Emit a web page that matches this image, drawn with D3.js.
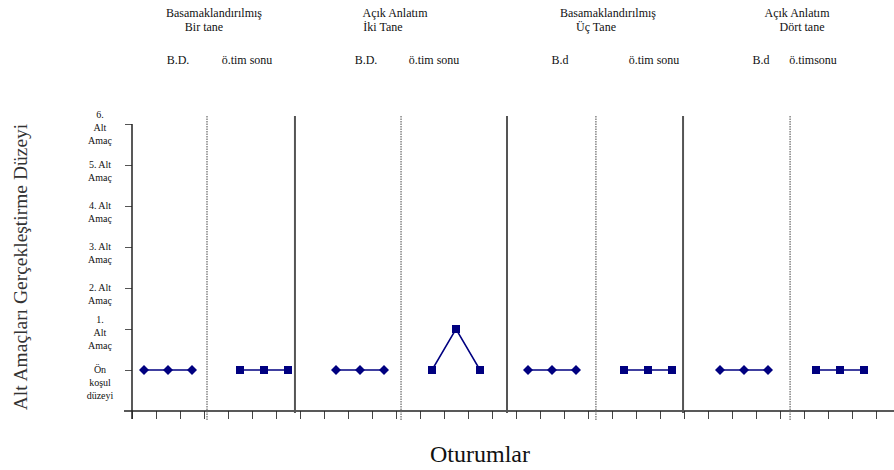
<!DOCTYPE html>
<html>
<head>
<meta charset="utf-8">
<script src="https://cdn.jsdelivr.net/npm/d3@7"></script>
<style>
  html, body { margin: 0; padding: 0; background: #fff; }
  svg { display: block; }
</style>
</head>
<body>
<svg id="chart" width="894" height="470"></svg>
<script>
// ---------------- data ----------------
const conditionTitles = [
  ["Basamaklandırılmış", "Bir tane"],
  ["Açık Anlatım", "İki Tane"],
  ["Basamaklandırılmış", "Üç Tane"],
  ["Açık Anlatım", "Dört tane"]
];
const phaseLabels = ["B.D.", "ö.tim sonu", "B.D.", "ö.tim sonu", "B.d", "ö.tim sonu", "B.d", "ö.timsonu"];
const phaseTypes = ["baseline", "probe", "baseline", "probe", "baseline", "probe", "baseline", "probe"];
const phaseSessions = [
  [1, 2, 3], [5, 6, 7], [9, 10, 11], [13, 14, 15],
  [17, 18, 19], [21, 22, 23], [25, 26, 27], [29, 30, 31]
];
const phaseValues = [
  [0, 0, 0], [0, 0, 0], [0, 0, 0], [0, 1, 0],
  [0, 0, 0], [0, 0, 0], [0, 0, 0], [0, 0, 0]
];
// phase-change lines, in session units
const phaseChangeLines = [3.625, 11.71, 19.83, 27.92];   // dotted (within condition)
const conditionChangeLines = [7.29, 16.125, 23.46];     // solid (between conditions)
const yLevels = [0, 1, 2, 3, 4, 5, 6];
const yTickLabels = [
  ["Ön", "koşul", "düzeyi"],
  ["1.", "Alt", "Amaç"],
  ["2. Alt", "Amaç"],
  ["3. Alt", "Amaç"],
  ["4. Alt", "Amaç"],
  ["5. Alt", "Amaç"],
  ["6.", "Alt", "Amaç"]
];
const sessionTicks = d3.range(0, 32).map(k => k + 0.5);
const yAxisTitle = "Alt Amaçları Gerçekleştirme Düzeyi";
const xAxisTitle = "Oturumlar";

// ---------------- layout ----------------
const FONT = "Liberation Serif";
const svg = d3.select("#chart");
const x = d3.scaleLinear().domain([0.5, 32.5]).range([132, 900]);
const y = d3.scaleLinear().domain([-1, 6]).range([411, 124]);
const navy = "#000080";

// x axis
const xAxis = d3.axisBottom(x).tickValues(sessionTicks).tickSize(8).tickFormat("");
const gx = svg.append("g").attr("transform", `translate(0,${y(-1)})`).call(xAxis);
gx.select(".domain").remove();
gx.selectAll(".tick line").attr("stroke", "#444").attr("stroke-width", 1);
svg.append("line").attr("x1", 124).attr("x2", 894).attr("y1", y(-1)).attr("y2", y(-1))
  .attr("stroke", "#222").attr("stroke-width", 1.5);

// y axis
const yAxis = d3.axisLeft(y).tickValues(yLevels).tickSize(7).tickFormat("");
const gy = svg.append("g").attr("transform", `translate(${x(0.5)},0)`).call(yAxis);
gy.select(".domain").remove();
gy.selectAll(".tick line").attr("stroke", "#555").attr("stroke-width", 1);
svg.append("line").attr("x1", x(0.5)).attr("x2", x(0.5)).attr("y1", y(6)).attr("y2", y(-1) + 8)
  .attr("stroke", "#222").attr("stroke-width", 1.5);

// y tick labels (multi-line)
yTickLabels.forEach((lines, i) => {
  const start = (lines.length === 3 && i !== 0) ? -9 : 0;
  const t = svg.append("text")
    .attr("font-family", FONT)
    .attr("text-anchor", "middle")
    .attr("font-size", 10)
    .attr("fill", "#111");
  lines.forEach((ln, j) => {
    t.append("tspan").attr("x", 100).attr("y", y(yLevels[i]) + start + j * 13 + 3).text(ln);
  });
});

// phase change lines
svg.selectAll("line.dotted").data(phaseChangeLines).join("line")
  .attr("class", "dotted")
  .attr("x1", d => x(d)).attr("x2", d => x(d))
  .attr("y1", 116).attr("y2", y(-1) + 9)
  .attr("stroke", "#666").attr("stroke-width", 1.2).attr("stroke-dasharray", "1.5,1");
svg.selectAll("line.solid").data(conditionChangeLines).join("line")
  .attr("class", "solid")
  .attr("x1", d => x(d)).attr("x2", d => x(d))
  .attr("y1", 116).attr("y2", y(-1) + 2)
  .attr("stroke", "#555").attr("stroke-width", 2);

// data lines + markers
const line = d3.line().x(d => x(d.s)).y(d => y(d.v));
phaseSessions.forEach((sess, p) => {
  const pts = sess.map((s, i) => ({ s, v: phaseValues[p][i] }));
  svg.append("path").attr("d", line(pts)).attr("fill", "none")
    .attr("stroke", navy).attr("stroke-width", 1.5);
  const isBase = phaseTypes[p] === "baseline";
  svg.append("g").selectAll("path").data(pts).join("path")
    .attr("transform", d => `translate(${x(d.s)},${y(d.v)})` + (isBase ? " rotate(45)" : ""))
    .attr("d", d3.symbol().type(d3.symbolSquare).size(isBase ? 50 : 64)())
    .attr("fill", navy);
});

// condition titles
const titleCenters = [[214, 204], [395, 383], [608, 596], [797, 802]];
conditionTitles.forEach((lines, i) => {
  lines.forEach((ln, j) => {
    svg.append("text").attr("x", titleCenters[i][j]).attr("y", 17 + j * 14)
      .attr("font-family", FONT)
      .attr("text-anchor", "middle").attr("font-size", 12).attr("fill", "#111").text(ln);
  });
});

// phase labels
const phaseLabelCenters = [178, 247, 366, 434, 560, 654, 761, 813];
phaseLabels.forEach((lb, i) => {
  svg.append("text").attr("x", phaseLabelCenters[i]).attr("y", 64)
    .attr("font-family", FONT)
    .attr("text-anchor", "middle").attr("font-size", 12).attr("fill", "#111").text(lb);
});

// axis titles
svg.append("text")
  .attr("transform", `translate(27,${267}) rotate(-90)`)
  .attr("font-family", FONT)
  .attr("text-anchor", "middle").attr("font-size", 19.5).attr("fill", "#333")
  .text(yAxisTitle);
svg.append("text").attr("x", 480).attr("y", 462)
  .attr("font-family", FONT)
  .attr("text-anchor", "middle").attr("font-size", 24).attr("fill", "#111")
  .text(xAxisTitle);
</script>
</body>
</html>
